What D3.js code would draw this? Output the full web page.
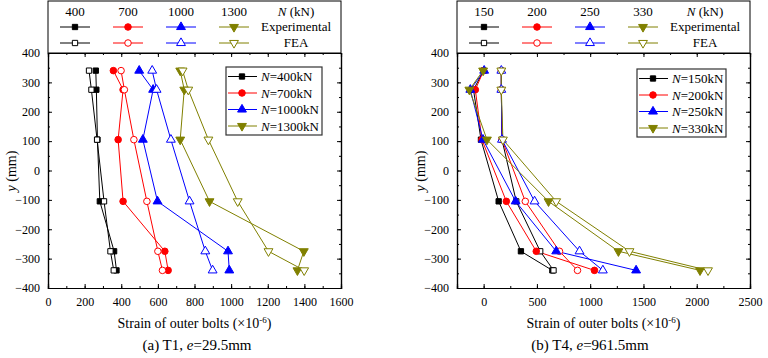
<!DOCTYPE html>
<html>
<head>
<meta charset="utf-8">
<script src="https://cdn.jsdelivr.net/npm/d3@7"></script>
<style>
  body { margin: 0; background: white; }
  svg, svg text { font-family: "Liberation Serif", "Times New Roman", serif; }
</style>
</head>
<body>
<div id="chart-area"></div>
<script>
// y positions of the bolts (mm)
var yLevels = [340, 275, 105, -105, -275, -340];

// T1, e=29.5mm
var t1Loads = [400, 700, 1000, 1300];
var t1Exp = [
  [261, 264, 270, 283, 361, 374],
  [357, 410, 383, 410, 638, 656],
  [498, 574, 518, 598, 983, 990],
  [722, 744, 722, 882, 1397, 1362]
];
var t1Fea = [
  [224, 237, 268, 306, 341, 359],
  [399, 417, 469, 540, 600, 625],
  [569, 593, 671, 773, 859, 899],
  [735, 766, 876, 1036, 1204, 1399]
];

// T4, e=961.5mm
var t4Loads = [150, 200, 250, 330];
var t4Exp = [
  [0, -95, -25, 141, 350, 645],
  [0, -78, -16, 213, 494, 1040],
  [5, -125, -6, 300, 681, 1431],
  [-5, -134, 31, 609, 1265, 2031]
];
var t4Fea = [
  [166, 166, 172, 306, 531, 656],
  [166, 166, 172, 391, 712, 881],
  [166, 166, 172, 478, 900, 1119],
  [166, 166, 181, 681, 1369, 2106]
];

var colors = ["#000000", "#ff0000", "#0000ff", "#808000"];
var symbols = [d3.symbolSquare, d3.symbolCircle, d3.symbolTriangle, d3.symbolTriangle];
var symSize = [28, 34, 34, 34];
var symRot = [0, 0, 0, 180];

var svg = d3.select("#chart-area")
  .append("svg")
  .attr("width", 768)
  .attr("height", 358);

function marker(g, i, cx, cy, open) {
  g.append("path")
    .attr("d", d3.symbol().type(symbols[i]).size(symSize[i])())
    .attr("transform", "translate(" + cx + "," + cy + ") rotate(" + symRot[i] + ")")
    .attr("fill", open ? "white" : colors[i])
    .attr("stroke", colors[i])
    .attr("stroke-width", 1);
}

function drawPanel(opt) {
  var left = opt.left, right = opt.right, top = 53, bottom = 288;
  var x = d3.scaleLinear().domain(opt.xDomain).range([left, right]);
  var y = d3.scaleLinear().domain([-400, 400]).range([bottom, top]);

  var g = svg.append("g");

  // header legend box
  g.append("rect")
    .attr("x", left).attr("y", 1)
    .attr("width", right - left).attr("height", top - 1)
    .attr("fill", "white").attr("stroke", "black");

  opt.loads.forEach(function(n, i) {
    var cx = left + 27 + i * 53;
    g.append("text")
      .attr("x", cx).attr("y", 16)
      .attr("text-anchor", "middle")
      .attr("font-size", "13px")
      .text(n);
    [27, 43].forEach(function(ry, k) {
      g.append("line")
        .attr("x1", cx - 15).attr("x2", cx + 15)
        .attr("y1", ry).attr("y2", ry)
        .attr("stroke", colors[i]);
      marker(g, i, cx, ry, k == 1);
    });
  });
  var hx = left + 248;
  var nk = g.append("text").attr("x", hx).attr("y", 16)
    .attr("text-anchor", "middle").attr("font-size", "13px");
  nk.append("tspan").attr("font-style", "italic").text("N");
  nk.append("tspan").text(" (kN)");
  g.append("text").attr("x", hx).attr("y", 31)
    .attr("text-anchor", "middle").attr("font-size", "13px").text("Experimental");
  g.append("text").attr("x", hx).attr("y", 47)
    .attr("text-anchor", "middle").attr("font-size", "13px").text("FEA");

  // series
  var line = d3.line()
    .x(function(d) { return x(d[0]); })
    .y(function(d) { return y(d[1]); });

  opt.loads.forEach(function(n, i) {
    [opt.exp[i], opt.fea[i]].forEach(function(vals, k) {
      var pts = vals.map(function(v, j) { return [v, yLevels[j]]; });
      g.append("path")
        .attr("d", line(pts))
        .attr("fill", "none")
        .attr("stroke", colors[i])
        .attr("stroke-width", 1);
    });
  });
  opt.loads.forEach(function(n, i) {
    [opt.exp[i], opt.fea[i]].forEach(function(vals, k) {
      vals.forEach(function(v, j) {
        marker(g, i, x(v), y(yLevels[j]), k == 1);
      });
    });
  });

  // axes, ticks inside
  var xMinor = d3.range(opt.xDomain[0], opt.xDomain[1] + 1, opt.xStep / 2);
  var yMinor = d3.range(-400, 401, 50);

  g.append("g")
    .attr("transform", "translate(0," + bottom + ")")
    .call(d3.axisBottom(x).tickValues(xMinor).tickSize(-2).tickFormat(""));
  g.append("g")
    .attr("transform", "translate(0," + bottom + ")")
    .call(d3.axisBottom(x).tickValues(opt.xTicks).tickSize(-4).tickPadding(9).tickFormat(d3.format("d")));
  g.append("g")
    .attr("transform", "translate(0," + top + ")")
    .call(d3.axisTop(x).tickValues(xMinor).tickSize(-2).tickFormat(""));
  g.append("g")
    .attr("transform", "translate(0," + top + ")")
    .call(d3.axisTop(x).tickValues(opt.xTicks).tickSize(-4).tickFormat(""));

  g.append("g")
    .attr("transform", "translate(" + left + ",0)")
    .call(d3.axisLeft(y).tickValues(yMinor).tickSize(-2).tickFormat(""));
  g.append("g")
    .attr("transform", "translate(" + left + ",0)")
    .call(d3.axisLeft(y).tickValues(d3.range(-400, 401, 100)).tickSize(-4).tickPadding(8).tickFormat(d3.format("d")));
  g.append("g")
    .attr("transform", "translate(" + right + ",0)")
    .call(d3.axisRight(y).tickValues(yMinor).tickSize(-2).tickFormat(""));
  g.append("g")
    .attr("transform", "translate(" + right + ",0)")
    .call(d3.axisRight(y).tickValues(d3.range(-400, 401, 100)).tickSize(-4).tickFormat(""));

  g.selectAll(".domain").attr("stroke", "black").attr("stroke-width", 1.2);
  g.selectAll(".tick line").attr("stroke", "black");
  g.selectAll(".tick text")
    .style("font-family", "'Liberation Serif', serif")
    .attr("font-size", "12px")
    .attr("fill", "black");

  // in-plot legend
  var lg = g.append("g");
  lg.append("rect")
    .attr("x", opt.legX).attr("y", opt.legY)
    .attr("width", opt.legW).attr("height", 68)
    .attr("fill", "white").attr("stroke", "#333").attr("stroke-width", 1.2);
  opt.loads.forEach(function(n, i) {
    var ly = opt.legY + 9.5 + i * 16.5;
    lg.append("line")
      .attr("x1", opt.legX + 2).attr("x2", opt.legX + 31)
      .attr("y1", ly).attr("y2", ly)
      .attr("stroke", colors[i]);
    marker(lg, i, opt.legX + 16, ly, false);
    var t = lg.append("text")
      .attr("x", opt.legX + 35).attr("y", ly + 4.5)
      .attr("font-size", "13px");
    t.append("tspan").attr("font-style", "italic").text("N");
    t.append("tspan").text("=" + n + "kN");
  });

  // titles
  var yt = g.append("text")
    .attr("transform", "translate(" + opt.yTitleX + ",171) rotate(-90)")
    .attr("text-anchor", "middle")
    .attr("font-size", "14px");
  yt.append("tspan").attr("font-style", "italic").text("y");
  yt.append("tspan").text(" (mm)");

  var xt = g.append("text")
    .attr("x", (left + right) / 2).attr("y", 328)
    .attr("text-anchor", "middle")
    .attr("font-size", "14px");
  xt.append("tspan").text("Strain of outer bolts (\u00d710");
  xt.append("tspan").attr("dy", -5).attr("font-size", "9px").text("-6");
  xt.append("tspan").attr("dy", 5).text(")");

  var cap = g.append("text")
    .attr("x", opt.capX).attr("y", 350)
    .attr("text-anchor", "middle")
    .attr("font-size", "15px");
  cap.append("tspan").text(opt.capA);
  cap.append("tspan").attr("font-style", "italic").text("e");
  cap.append("tspan").text(opt.capB);
}

drawPanel({
  left: 48, right: 341,
  xDomain: [0, 1600], xStep: 200, xTicks: d3.range(0, 1601, 200),
  loads: t1Loads, exp: t1Exp, fea: t1Fea,
  legX: 226, legY: 67, legW: 96,
  yTitleX: 16, capX: 197,
  capA: "(a) T1, ", capB: "=29.5mm"
});

drawPanel({
  left: 457, right: 750,
  xDomain: [-250, 2500], xStep: 500, xTicks: d3.range(0, 2501, 500),
  loads: t4Loads, exp: t4Exp, fea: t4Fea,
  legX: 637, legY: 69, legW: 89,
  yTitleX: 425, capX: 590,
  capA: "(b) T4, ", capB: "=961.5mm"
});
</script>
</body>
</html>
